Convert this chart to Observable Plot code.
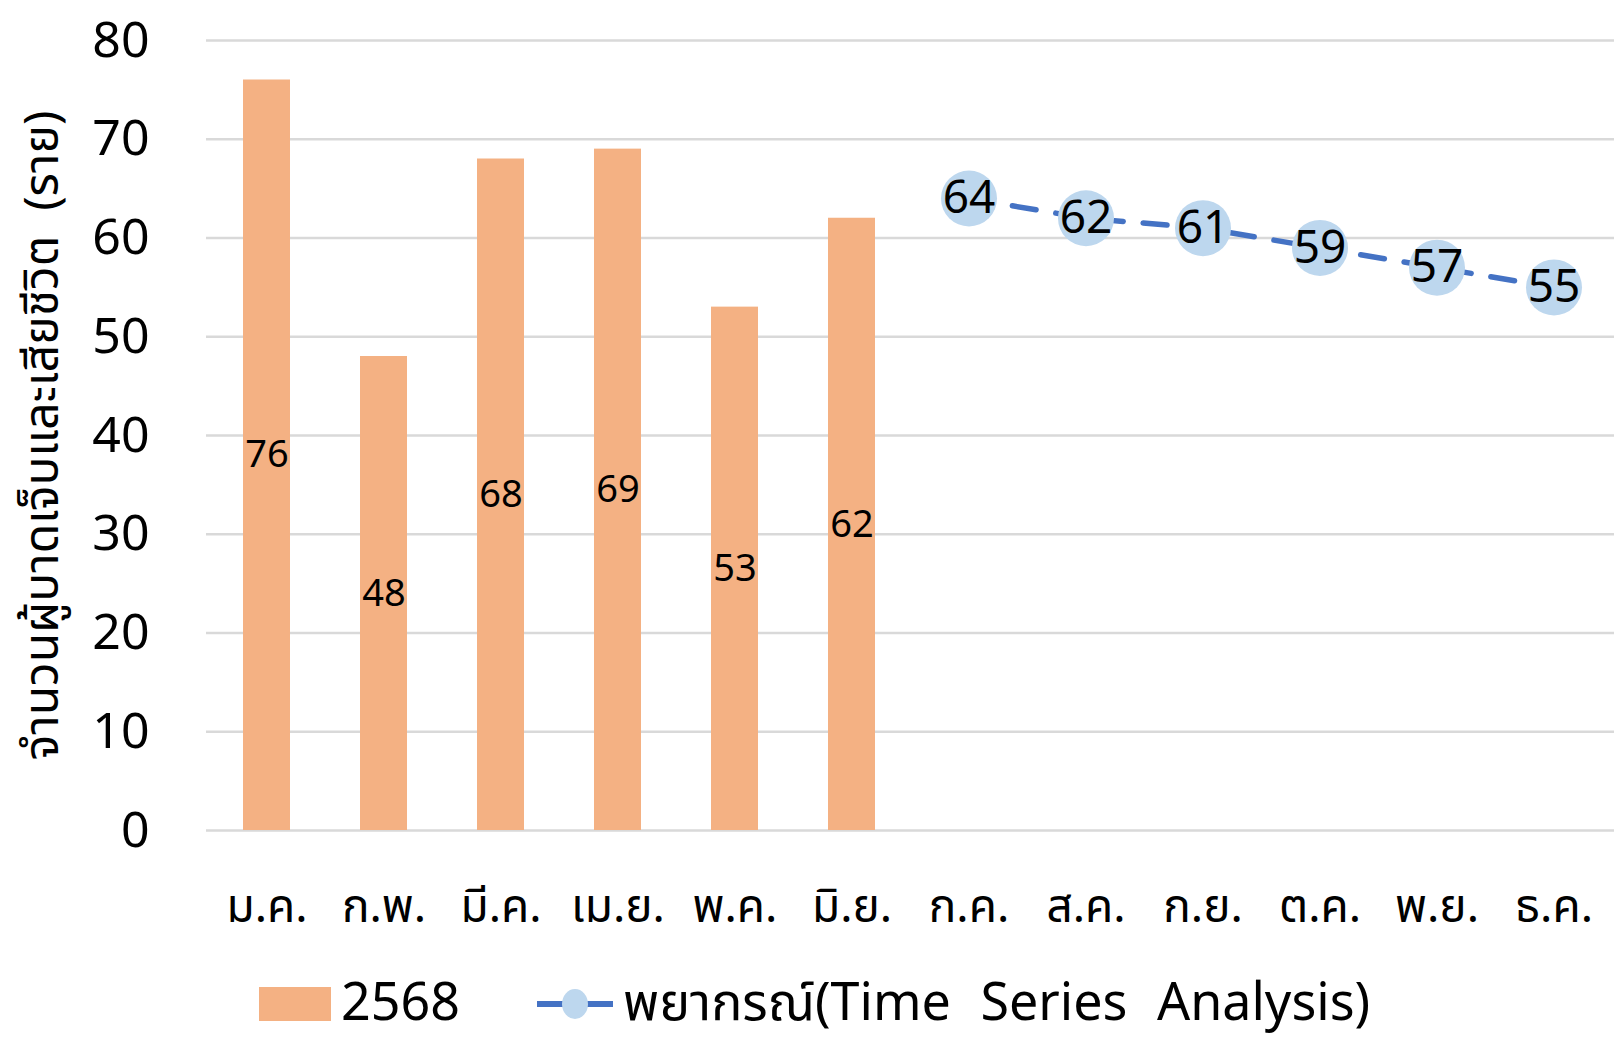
<!DOCTYPE html>
<html>
<head>
<meta charset="utf-8">
<script src="https://cdn.jsdelivr.net/npm/d3@7"></script>
<script src="https://cdn.jsdelivr.net/npm/@observablehq/plot@0.6"></script>
<style>
  html, body { margin: 0; padding: 0; background: #fff; }
  body { width: 1614px; height: 1038px; overflow: hidden; font-family: "Noto Sans Thai", "Noto Sans", sans-serif; }
  #legend { position: relative; height: 78px; }
  .lg { position: absolute; display: flex; align-items: center; font-size: 52px; line-height: 56px; height: 56px; color: #000; white-space: pre; }
</style>
</head>
<body>
<div id="chart"></div>
<div id="legend">
  <div class="lg" style="left:259px; top:16px;">
    <svg width="72" height="34" style="margin-right:10px"><rect width="72" height="34" fill="#F4B183"/></svg><span id="lg1"></span>
  </div>
  <div class="lg" style="left:537px; top:16px;">
    <svg width="76" height="34" style="margin-right:10px"><line x1="0" x2="76" y1="17" y2="17" stroke="#4472C4" stroke-width="6"/><ellipse cx="38" cy="17" rx="13" ry="15" fill="#BDD7EE"/></svg><span id="lg2" style="word-spacing:16px"></span>
  </div>
</div>
<script>
const months = ["ม.ค.", "ก.พ.", "มี.ค.", "เม.ย.", "พ.ค.", "มิ.ย.", "ก.ค.", "ส.ค.", "ก.ย.", "ต.ค.", "พ.ย.", "ธ.ค."];
const actualMonths = ["ม.ค.", "ก.พ.", "มี.ค.", "เม.ย.", "พ.ค.", "มิ.ย."];
const actualValues = [76, 48, 68, 69, 53, 62];
const forecastMonths = ["ก.ค.", "ส.ค.", "ก.ย.", "ต.ค.", "พ.ย.", "ธ.ค."];
const forecastValues = [64, 62, 61, 59, 57, 55];
const yTicks = [0, 10, 20, 30, 40, 50, 60, 70, 80];
const yTitle = "จำนวนผู้บาดเจ็บและเสียชีวิต  (ราย)";
const seriesActual = "2568";
const seriesForecast = "พยากรณ์(Time Series Analysis)";

const actual = actualMonths.map((m, i) => ({month: m, value: actualValues[i]}));
const forecast = forecastMonths.map((m, i) => ({month: m, value: forecastValues[i]}));

document.getElementById("lg1").textContent = seriesActual;
document.getElementById("lg2").textContent = seriesForecast;

const font = '"Noto Sans Thai", "Noto Sans", sans-serif';

const chart = Plot.plot({
  width: 1614,
  height: 960,
  marginLeft: 206,
  marginRight: 0,
  marginTop: 40,
  marginBottom: 130,
  style: {fontFamily: font, background: "#fff", color: "#000"},
  x: {domain: months, paddingInner: 0.6, paddingOuter: 0.3, label: null},
  y: {domain: [0, 80], label: null},
  marks: [
    Plot.gridY(yTicks, {stroke: "#D9D9D9", strokeOpacity: 1, strokeWidth: 2.5}),
    Plot.barY(actual, {x: "month", y: "value", fill: "#F4B183"}),
    Plot.text(actual, {x: "month", y: d => d.value / 2, text: d => String(d.value), fontSize: 38, fill: "#000"}),
    Plot.line(forecast, {x: "month", y: "value", stroke: "#4472C4", strokeWidth: 5.5, strokeDasharray: "24,20"}),
    Plot.dot(forecast, {x: "month", y: "value", r: 28, fill: "#BDD7EE", stroke: null}),
    Plot.text(forecast, {x: "month", y: "value", text: d => String(d.value), fontSize: 46, fill: "#000"}),
    Plot.axisY(yTicks, {tickSize: 0, tickPadding: 57, fontSize: 50, label: null}),
    Plot.axisX({tickSize: 0, tickPadding: 59, fontSize: 46, label: null}),
    Plot.text([yTitle], {frameAnchor: "left", dx: -164, rotate: -90, textAnchor: "middle", fontSize: 48, fill: "#000"})
  ]
});
document.getElementById("chart").appendChild(chart);
</script>
</body>
</html>
